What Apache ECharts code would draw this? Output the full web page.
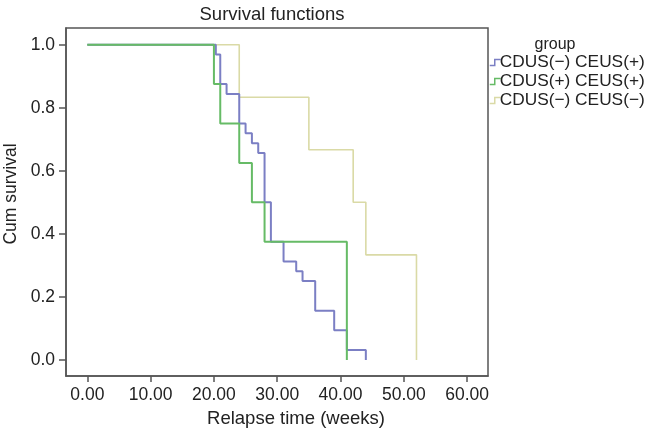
<!DOCTYPE html>
<html>
<head>
<meta charset="utf-8">
<script src="https://cdn.jsdelivr.net/npm/echarts@6/dist/echarts.min.js"></script>
<style>html,body{margin:0;padding:0;background:#fff}#c{width:650px;height:432px}</style>
</head>
<body>
<div id="c"></div>
<script>
// ---- data ----
const seriesNames = ['CDUS(\u2212) CEUS(+)', 'CDUS(+) CEUS(+)', 'CDUS(\u2212) CEUS(\u2212)'];
const blueTimes = [0, 20.3, 21, 22, 24, 25, 26, 27, 28, 29, 31, 33, 34, 36, 39, 41, 44];
const blueSurv  = [1, 0.96875, 0.875, 0.84375, 0.75, 0.71875, 0.6875, 0.65625, 0.5, 0.375, 0.3125, 0.28125, 0.25, 0.15625, 0.09375, 0.03125, 0];
const greenTimes = [0, 20, 21, 24, 26, 28, 41];
const greenSurv  = [1, 0.875, 0.75, 0.625, 0.5, 0.375, 0];
const yellowTimes = [0, 24, 35, 42, 44, 52];
const yellowSurv  = [1, 0.8333, 0.6667, 0.5, 0.3333, 0];
const xTicks = [0, 10, 20, 30, 40, 50, 60];
const yTicks = [0, 0.2, 0.4, 0.6, 0.8, 1.0];

const colors = ['#7b7fc4', '#66bb66', '#dadaa6'];
const FONT = "'Liberation Sans', Arial, sans-serif";

function pairs(t, s) { return t.map((v, i) => [v, s[i]]); }

const chart = echarts.init(document.getElementById('c'), null, {renderer: 'canvas'});
const stepIcon = 'path://M0,6L5,6L5,0L11,0';

chart.setOption({
  animation: false,
  backgroundColor: '#fff',
  title: [
    {text: 'Survival functions', left: 267, top: 0, textAlign: 'center',
     textStyle: {fontFamily: FONT, fontSize: 18.5, fontWeight: 'normal', color: '#222'}},
    {text: 'group', left: 550, top: 32, textAlign: 'center',
     textStyle: {fontFamily: FONT, fontSize: 16, fontWeight: 'normal', color: '#222'}}
  ],
  grid: {left: 66, right: 162, top: 28, bottom: 56, show: true, containLabel: false,
         outerBoundsMode: 'none',
         borderColor: '#555', borderWidth: 1.5, backgroundColor: 'transparent'},
  legend: {
    orient: 'vertical', left: 484, top: 49, itemWidth: 11, itemHeight: 6, itemGap: 2,
    textStyle: {fontFamily: FONT, fontSize: 17.3, color: '#222', padding: [0, 0, 0, -6]},
    data: seriesNames.map((n, i) => ({name: n, icon: stepIcon,
      itemStyle: {color: 'transparent', borderColor: colors[i], borderWidth: 1.5}}))
  },
  xAxis: {
    type: 'value', min: -3.37, max: 63.3,
    name: 'Relapse time (weeks)', nameLocation: 'middle', nameGap: 33,
    nameTextStyle: {fontFamily: FONT, fontSize: 18.5, color: '#222', padding: [0, 0, 0, 38]},
    axisLine: {show: true, onZero: false, lineStyle: {color: '#555', width: 1.5}},
    axisTick: {show: true, length: 6, customValues: xTicks, lineStyle: {color: '#555', width: 1.5}},
    axisLabel: {customValues: xTicks, margin: 10, fontFamily: FONT, fontSize: 17.5, color: '#222',
                formatter: v => v.toFixed(2)},
    splitLine: {show: false}
  },
  yAxis: {
    type: 'value', min: -0.051, max: 1.053,
    name: 'Cum survival', nameLocation: 'middle', nameGap: 46, nameRotate: 90,
    nameTextStyle: {fontFamily: FONT, fontSize: 17.5, color: '#222', padding: [0, 0, 0, 16]},
    axisLine: {show: true, onZero: false, lineStyle: {color: '#555', width: 1.5}},
    axisTick: {show: true, length: 7, customValues: yTicks, lineStyle: {color: '#555', width: 1.5}},
    axisLabel: {customValues: yTicks, margin: 11, fontFamily: FONT, fontSize: 17.5, color: '#222',
                formatter: v => v.toFixed(1)},
    splitLine: {show: false}
  },
  series: [
    {name: seriesNames[2], type: 'line', step: 'end', showSymbol: false, z: 2,
     data: pairs(yellowTimes, yellowSurv), lineStyle: {color: colors[2], width: 1.6}, itemStyle: {color: colors[2]}},
    {name: seriesNames[0], type: 'line', step: 'end', showSymbol: false, z: 3,
     data: pairs(blueTimes, blueSurv), lineStyle: {color: colors[0], width: 2}, itemStyle: {color: colors[0]}},
    {name: seriesNames[1], type: 'line', step: 'end', showSymbol: false, z: 4,
     data: pairs(greenTimes, greenSurv), lineStyle: {color: colors[1], width: 2}, itemStyle: {color: colors[1]}}
  ]
});
</script>
</body>
</html>
